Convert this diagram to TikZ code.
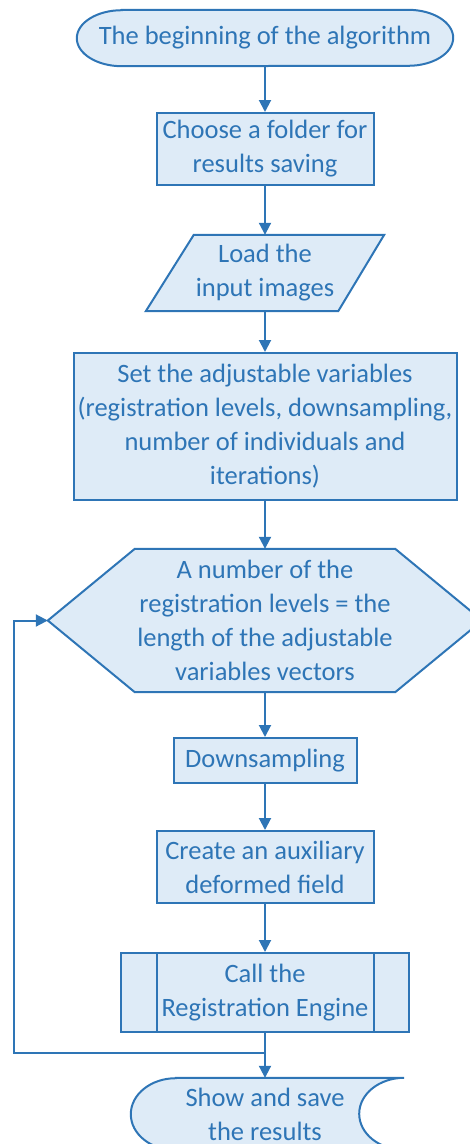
\documentclass[tikz,border=0pt]{standalone}
\usepackage{fontspec}
\setmainfont{Carlito}
\usetikzlibrary{arrows.meta,calc,backgrounds}
\definecolor{flowline}{HTML}{2E75B6}
\definecolor{flowfill}{HTML}{DEEBF7}
\definecolor{flowtext}{HTML}{2E75B6}
\begin{document}
\begin{tikzpicture}[x=1pt,y=-1pt,
  label text/.style={align=center, text=flowtext, inner sep=0pt,
    font=\fontsize{26.5}{34}\selectfont},
  box/.style={label text, draw=flowline, fill=flowfill, line width=2pt},
  holder/.style={label text},
  outline/.style={draw=flowline, fill=flowfill, line width=2pt, line join=miter},
  flow/.style={draw=flowline, line width=2pt,
    -{Triangle[length=12pt,width=12pt]}},
  rail/.style={draw=flowline, line width=2pt},
]
\useasboundingbox (0,0) rectangle (470,1144);

% terminal: start of the algorithm
\node[holder, minimum width=376pt, minimum height=56pt] (start) at (265,38)
  {The beginning of the algorithm};
% process boxes
\node[box, minimum width=217pt, minimum height=72pt] (folder) at (265,149)
  {Choose a folder for\\results saving};
% input/output: parallelogram
\node[holder, minimum width=238pt, minimum height=76pt] (load) at (265,273)
  {Load the\\input images};
\node[box, minimum width=383pt, minimum height=147pt] (vars) at (265,426.5)
  {Set the adjustable variables\\(registration levels, downsampling,\\number of individuals and\\iterations)};
% loop limit: hexagon
\node[holder, minimum width=434pt, minimum height=143pt] (hex) at (265,620.5)
  {A number of the\\registration levels = the\\length of the adjustable\\variables vectors};
\node[box, minimum width=183pt, minimum height=45pt] (down) at (265,760.5)
  {Downsampling};
\node[box, minimum width=217pt, minimum height=72pt] (aux) at (265,867)
  {Create an auxiliary\\deformed field};
% predefined process
\node[box, minimum width=288pt, minimum height=79pt] (call) at (265,992.5)
  {Call the\\Registration Engine};
% stored data
\node[holder, minimum width=228pt, minimum height=72pt] (show) at (290,1114)
  {};
\node[label text] (showtext) at (265,1114) {Show and save\\the results};

\begin{scope}[on background layer]
  \draw[outline] ([xshift=45pt]start.north west) -- ([xshift=-45pt]start.north east)
    arc[start angle=90, end angle=-90, x radius=45pt, y radius=28pt]
    -- ([xshift=45pt]start.south west)
    arc[start angle=270, end angle=90, x radius=45pt, y radius=28pt] -- cycle;
  \draw[outline] (load.south west) -- ([xshift=-46pt]load.south east)
    -- (load.north east) -- ([xshift=48pt]load.north west) -- cycle;
  \draw[outline] (hex.west) -- ([xshift=87pt]hex.north west)
    -- ([xshift=-87pt]hex.north east) -- (hex.east)
    -- ([xshift=-87pt]hex.south east) -- ([xshift=87pt]hex.south west) -- cycle;
  \draw[outline] (show.north west)
    -- (show.north east)
    arc[start angle=90, end angle=270, x radius=45pt, y radius=36pt]
    -- (show.south west)
    arc[start angle=270, end angle=90, x radius=45pt, y radius=36pt] -- cycle;
\end{scope}
% side bars of the predefined process
\draw[rail] ([xshift=37pt]call.north west) -- ([xshift=37pt]call.south west);
\draw[rail] ([xshift=-36pt]call.north east) -- ([xshift=-36pt]call.south east);

% connectors
\draw[flow] (start) -- (folder);
\draw[flow] (folder) -- (load);
\draw[flow] (load) -- (vars);
\draw[flow] (vars) -- (hex);
\draw[flow] (hex) -- (down);
\draw[flow] (down) -- (aux);
\draw[flow] (aux) -- (call);
\draw[flow] (call) -- (show.north -| call.south);
% return path of the loop
\coordinate (back) at (call.south |- 0,1053);
\coordinate (rail) at (14,1053);
\draw[flow] (back) -- (rail) |- (hex.west);
\end{tikzpicture}
\end{document}
